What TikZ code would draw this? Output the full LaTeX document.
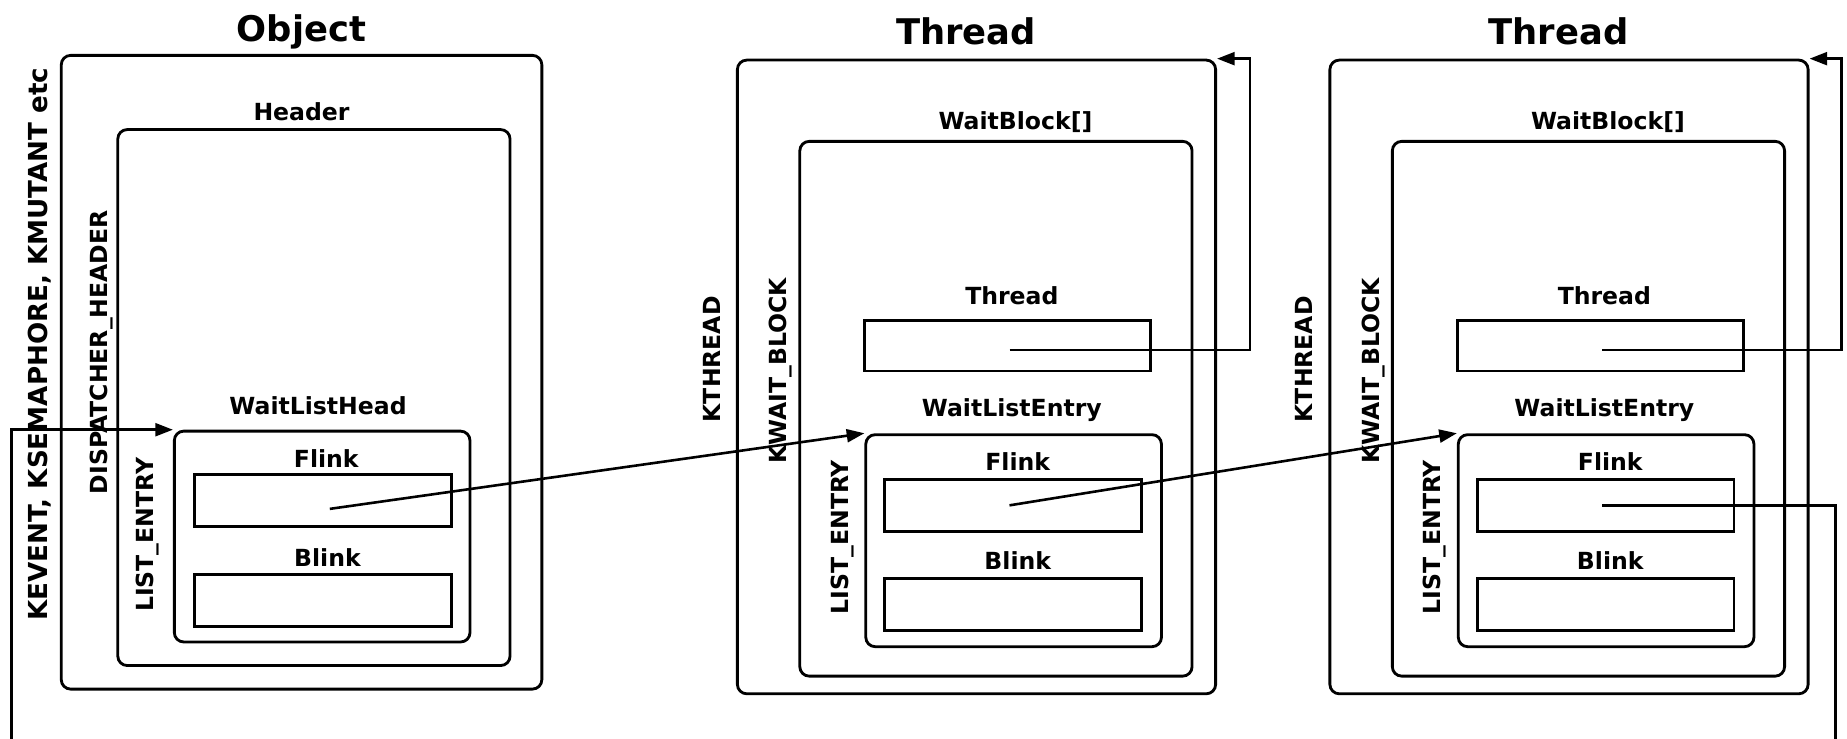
\documentclass[tikz,border=0pt]{standalone}
\usepackage{fontspec}
\setmainfont{DejaVu Sans}
\usetikzlibrary{arrows.meta}
\begin{document}
\begin{tikzpicture}[x=0.5pt,y=-0.5pt,
  rbox/.style={draw, line width=1.2pt, rounded corners=4pt, inner sep=0pt},
  field/.style={draw, line width=1.2pt, inner sep=0pt, minimum width=109pt, minimum height=22pt},
  lbl/.style={font=\bfseries\fontsize{10}{12}\selectfont, inner sep=0pt},
  ttl/.style={font=\bfseries\fontsize{15}{18}\selectfont, inner sep=0pt},
  vlbl/.style={lbl, rotate=90},
  link/.style={line width=1.1pt},
  ptr/.style={line width=1.1pt, -{Triangle[length=7.5pt,width=5.5pt]}}]
\useasboundingbox (0,0) rectangle (1568,627);

% ---------- Object ----------
\node[rbox, minimum width=204pt, minimum height=269pt] (obj) at (256,316) {};
\node[rbox, minimum width=166.5pt, minimum height=227.5pt] (hdr) at (266.5,337.5) {};
\node[rbox, minimum width=125.5pt, minimum height=89.5pt] (wlh) at (273.5,455.5) {};
\node[field] (of) at (274,425) {};
\node[field] (ob) at (274,510) {};
\node[ttl] (objt) at (256,27) {Object};
\node[lbl] (hdrt) at (256,95) {Header};
\node[lbl] (wlht) at (270,344) {WaitListHead};
\node[lbl] (oft) at (277,389) {Flink};
\node[lbl] (obt) at (278,473) {Blink};
\node[vlbl, font=\bfseries\fontsize{11.1}{13}\selectfont] (kev) at (34,292) {KEVENT, KSEMAPHORE, KMUTANT etc};
\node[vlbl] (dh) at (86,299) {DISPATCHER\_HEADER};
\node[vlbl] (le0) at (125,454) {LIST\_ENTRY};

% ---------- Thread 1 ----------
\node[rbox, minimum width=203pt, minimum height=269pt] (t1) at (829,320) {};
\node[rbox, minimum width=166.5pt, minimum height=227pt] (wb1) at (845.5,347) {};
\node[draw, line width=1.2pt, inner sep=0pt, minimum width=121.5pt, minimum height=21.5pt] (tf1) at (855.5,293.5) {};
\node[rbox, minimum width=125.5pt, minimum height=90pt] (wle1) at (860.5,459) {};
\node[field] (f1) at (860,429) {};
\node[field] (bl1) at (860,513) {};
\node[ttl] (t1t) at (820,27) {Thread};
\node[lbl] (wb1t) at (862,104) {WaitBlock[]};
\node[lbl] (tf1t) at (859,251) {Thread};
\node[lbl] (wle1t) at (859,348) {WaitListEntry};
\node[lbl] (f1t) at (864,392) {Flink};
\node[lbl] (bl1t) at (864,476) {Blink};
\node[vlbl] (kt1) at (604,305) {KTHREAD};
\node[vlbl] (kwb1) at (663,315) {KWAIT\_BLOCK};
\node[vlbl] (le1) at (715,456) {LIST\_ENTRY};

% ---------- Thread 2 ----------
\node[rbox, minimum width=203pt, minimum height=269pt] (t2) at (1332,320) {};
\node[rbox, minimum width=166.5pt, minimum height=227pt] (wb2) at (1348.5,347) {};
\node[draw, line width=1.2pt, inner sep=0pt, minimum width=121.5pt, minimum height=21.5pt] (tf2) at (1358.5,293.5) {};
\node[rbox, minimum width=125.5pt, minimum height=90pt] (wle2) at (1363.5,459) {};
\node[field] (f2) at (1363,429) {};
\node[field] (bl2) at (1363,513) {};
\node[ttl] (t2t) at (1323,27) {Thread};
\node[lbl] (wb2t) at (1365,104) {WaitBlock[]};
\node[lbl] (tf2t) at (1362,251) {Thread};
\node[lbl] (wle2t) at (1362,348) {WaitListEntry};
\node[lbl] (f2t) at (1367,392) {Flink};
\node[lbl] (bl2t) at (1367,476) {Blink};
\node[vlbl] (kt2) at (1107,305) {KTHREAD};
\node[vlbl] (kwb2) at (1166,315) {KWAIT\_BLOCK};
\node[vlbl] (le2) at (1218,456) {LIST\_ENTRY};

% ---------- connectors ----------
\coordinate (s0) at (280,432);
\coordinate (s1) at (857,429);
\coordinate (s2) at (1360,429);
\coordinate (r1) at (857,297);
\coordinate (r2) at (1360,297);
\coordinate (b0) at (10,627);
\coordinate (b2) at (1558,627);

\draw[ptr] (b0) |- (wlh.north west);
\draw[ptr] (s0) -- (wle1.north west);
\draw[ptr] (s1) -- (wle2.north west);
\draw[ptr] (r1) -| ([xshift=14pt]t1.north east) -- (t1.north east);
\draw[ptr] (r2) -| ([xshift=13.5pt]t2.north east) -- (t2.north east);
\draw[link] (s2) -| (b2);
\end{tikzpicture}
\end{document}
